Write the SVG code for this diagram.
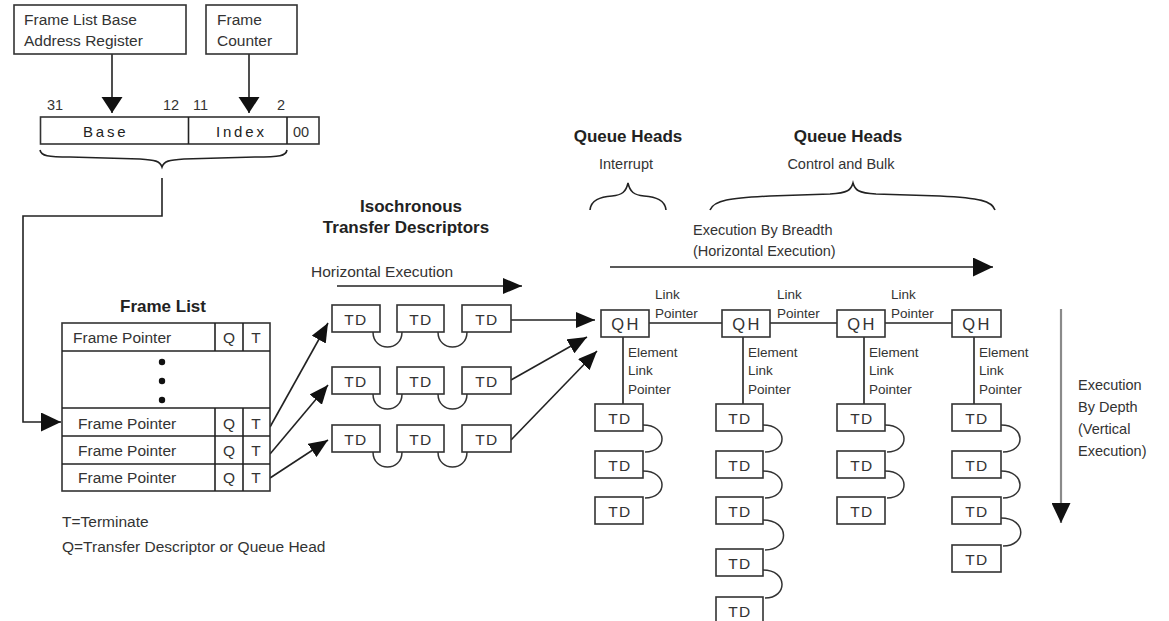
<svg xmlns="http://www.w3.org/2000/svg" width="1169" height="621" viewBox="0 0 1169 621">
<style>
text{font-family:"Liberation Sans",Arial,sans-serif;fill:#333;}
.t{font-size:15.5px;}
.s{font-size:13.5px;}
.b{font-size:17px;font-weight:bold;fill:#222;}
.td{font-size:15.5px;letter-spacing:1.5px;text-anchor:middle;}
.qh{font-size:16.5px;letter-spacing:2.5px;text-anchor:middle;}
.reg{font-size:15px;letter-spacing:2.8px;fill:#222;}
.box{fill:#fff;stroke:#333;stroke-width:1.6;}
.ln{fill:none;stroke:#222;stroke-width:1.6;}
.loop{fill:none;stroke:#333;stroke-width:1.5;}
</style>
<defs>
<marker id="ah" markerUnits="userSpaceOnUse" markerWidth="20" markerHeight="16" refX="19" refY="8" orient="auto"><path d="M0,0 L19,8 L0,16 z" fill="#111"/></marker>
<marker id="ahb" markerUnits="userSpaceOnUse" markerWidth="21" markerHeight="19" refX="20" refY="9.5" orient="auto"><path d="M0,0 L20,9.5 L0,19 z" fill="#111"/></marker>
<marker id="ahr" markerUnits="userSpaceOnUse" markerWidth="17" markerHeight="22" refX="16" refY="10.5" orient="auto"><path d="M0,0 L16,10.5 L0,21 z" fill="#111"/></marker>
</defs>
<rect width="1169" height="621" fill="#fff"/>

<g id="connectors">
<line class="ln" x1="112" y1="54" x2="112" y2="113" stroke-width="2" marker-end="url(#ahr)"/>
<line class="ln" x1="249" y1="54" x2="249" y2="113" stroke-width="2" marker-end="url(#ahr)"/>
<path class="ln" d="M40 150 C41 156 48 157 70 157 L140 159 C155 160 160 161 162 167 C164 161 169 160 184 159 L255 157 C280 157 286 156 287 150"/>
<path class="ln" d="M162 178 V216 H23 V422 H61" marker-end="url(#ahb)"/>
<line class="ln" x1="270" y1="427" x2="328" y2="323" marker-end="url(#ah)"/>
<line class="ln" x1="270" y1="454" x2="328" y2="385" marker-end="url(#ah)"/>
<line class="ln" x1="270" y1="478" x2="328" y2="440" marker-end="url(#ah)"/>
<line class="ln" x1="337" y1="286" x2="522" y2="286" marker-end="url(#ah)"/>
<line class="ln" x1="511" y1="320" x2="595" y2="320" marker-end="url(#ah)"/>
<line class="ln" x1="511" y1="380" x2="587" y2="337" marker-end="url(#ah)"/>
<line class="ln" x1="511" y1="440" x2="597" y2="351" marker-end="url(#ah)"/>
<path class="loop" d="M373 332 C373 352 402 352 402 332 M438 332 C438 352 467 352 467 332"/>
<path class="loop" d="M373 394 C373 414 402 414 402 394 M438 394 C438 414 467 414 467 394"/>
<path class="loop" d="M373 452 C373 472 402 472 402 452 M438 452 C438 472 467 472 467 452"/>
<path class="ln" d="M590 210 C591 200 600 197 612 196 C622 195 626 192 628 183 C630 192 634 195 644 196 C656 197 665 200 666 210"/>
<path class="ln" d="M710 210 C714 200 730 198 770 196 L830 194 C848 193 851 190 853 183 C855 190 858 193 876 194 L940 196 C980 198 992 201 995 210"/>
<line class="ln" x1="610" y1="267" x2="993" y2="267" marker-end="url(#ahb)"/>
<line x1="1061" y1="309" x2="1061" y2="523" stroke="#8a8a8a" stroke-width="2.2" marker-end="url(#ahb)"/>
<line class="ln" x1="649" y1="323" x2="722" y2="323"/>
<line class="ln" x1="770" y1="323" x2="837" y2="323"/>
<line class="ln" x1="885" y1="323" x2="952" y2="323"/>
<line class="ln" x1="623" y1="337" x2="623" y2="404"/>
<line class="ln" x1="743" y1="337" x2="743" y2="404"/>
<line class="ln" x1="864" y1="337" x2="864" y2="404"/>
<line class="ln" x1="974" y1="337" x2="974" y2="404"/>
<path class="loop" d="M643 425 C668 425 668 452 645 452 M643 471 C668 471 668 498 645 498"/>
<path class="loop" d="M763 425 C788 425 788 452 765 452 M763 471 C788 471 788 498 765 498 M763 520 C790 520 790 550 765 550 M763 570 C788 570 788 598 765 598"/>
<path class="loop" d="M885 425 C910 425 910 452 887 452 M885 471 C910 471 910 498 887 498"/>
<path class="loop" d="M1001 425 C1026 425 1026 452 1003 452 M1001 471 C1026 471 1026 498 1003 498 M1001 518 C1027 518 1027 546 1003 546"/>
</g>

<g id="flbar">
<rect class="box" x="14" y="5" width="172" height="49"/>
<text class="t" x="24" y="25">Frame List Base</text>
<text class="t" x="24" y="46">Address Register</text>
</g>
<g id="framecounter">
<rect class="box" x="206" y="5" width="91" height="49"/>
<text class="t" x="217" y="25">Frame</text>
<text class="t" x="217" y="46">Counter</text>
</g>

<g id="register">
<text class="t" x="47" y="110" style="font-size:14.5px">31</text>
<text class="t" x="163" y="110" style="font-size:14.5px">12</text>
<text class="t" x="193" y="110" style="font-size:14.5px">11</text>
<text class="t" x="277" y="110" style="font-size:14.5px">2</text>
<rect class="box" x="40.5" y="117" width="278.5" height="27"/>
<line class="ln" x1="188.5" y1="117" x2="188.5" y2="144"/>
<line class="ln" x1="287" y1="117" x2="287" y2="144"/>
<text class="reg" x="83" y="137">Base</text>
<text class="reg" x="216" y="137">Index</text>
<text x="293" y="137" style="font-size:14.5px">00</text>
</g>

<g id="framelist">
<text class="b" x="163" y="312" text-anchor="middle">Frame List</text>
<rect class="box" x="62" y="323" width="208" height="168"/>
<line class="ln" x1="62" y1="351" x2="270" y2="351"/>
<line class="ln" x1="62" y1="408" x2="270" y2="408"/>
<line class="ln" x1="62" y1="436" x2="270" y2="436"/>
<line class="ln" x1="62" y1="464" x2="270" y2="464"/>
<line class="ln" x1="215" y1="323" x2="215" y2="351"/>
<line class="ln" x1="243" y1="323" x2="243" y2="351"/>
<line class="ln" x1="215" y1="408" x2="215" y2="491"/>
<line class="ln" x1="243" y1="408" x2="243" y2="491"/>
<text class="t" x="73" y="343">Frame Pointer</text>
<text class="t" x="229" y="343" text-anchor="middle">Q</text>
<text class="t" x="256" y="343" text-anchor="middle">T</text>
<circle cx="162" cy="362" r="3.2" fill="#111"/>
<circle cx="162" cy="381" r="3.2" fill="#111"/>
<circle cx="162" cy="400" r="3.2" fill="#111"/>
<text class="t" x="78" y="429">Frame Pointer</text>
<text class="t" x="229" y="429" text-anchor="middle">Q</text>
<text class="t" x="256" y="429" text-anchor="middle">T</text>
<text class="t" x="78" y="456">Frame Pointer</text>
<text class="t" x="229" y="456" text-anchor="middle">Q</text>
<text class="t" x="256" y="456" text-anchor="middle">T</text>
<text class="t" x="78" y="483">Frame Pointer</text>
<text class="t" x="229" y="483" text-anchor="middle">Q</text>
<text class="t" x="256" y="483" text-anchor="middle">T</text>
<text class="t" x="62" y="527">T=Terminate</text>
<text class="t" x="62" y="552">Q=Transfer Descriptor or Queue Head</text>
</g>

<g id="iso">
<text class="b" x="411" y="212" text-anchor="middle">Isochronous</text>
<text class="b" x="406" y="233" text-anchor="middle">Transfer Descriptors</text>
<text class="t" x="311" y="277">Horizontal Execution</text>
<rect class="box" x="332" y="305" width="48" height="27"/><text class="td" x="356" y="325">TD</text>
<rect class="box" x="397" y="305" width="47" height="27"/><text class="td" x="421" y="325">TD</text>
<rect class="box" x="462" y="305" width="49" height="27"/><text class="td" x="487" y="325">TD</text>
<rect class="box" x="332" y="367" width="48" height="27"/><text class="td" x="356" y="387">TD</text>
<rect class="box" x="397" y="367" width="47" height="27"/><text class="td" x="421" y="387">TD</text>
<rect class="box" x="462" y="367" width="49" height="27"/><text class="td" x="487" y="387">TD</text>
<rect class="box" x="332" y="425" width="48" height="27"/><text class="td" x="356" y="445">TD</text>
<rect class="box" x="397" y="425" width="47" height="27"/><text class="td" x="421" y="445">TD</text>
<rect class="box" x="462" y="425" width="49" height="27"/><text class="td" x="487" y="445">TD</text>
</g>

<g id="qhlabels">
<text class="b" x="628" y="142" text-anchor="middle">Queue Heads</text>
<text class="t" x="626" y="169" text-anchor="middle" style="font-size:14.5px">Interrupt</text>
<text class="b" x="848" y="142" text-anchor="middle">Queue Heads</text>
<text class="t" x="841" y="169" text-anchor="middle" style="font-size:14.5px">Control and Bulk</text>
<text class="t" x="693" y="235" style="font-size:14.5px">Execution By Breadth</text>
<text class="t" x="693" y="256" style="font-size:14.5px">(Horizontal Execution)</text>
<text class="t" x="1078" y="390" style="font-size:14.5px">Execution</text>
<text class="t" x="1078" y="412" style="font-size:14.5px">By Depth</text>
<text class="t" x="1078" y="434" style="font-size:14.5px">(Vertical</text>
<text class="t" x="1078" y="456" style="font-size:14.5px">Execution)</text>
<text class="s" x="655" y="299">Link</text><text class="s" x="655" y="318">Pointer</text>
<text class="s" x="777" y="299">Link</text><text class="s" x="777" y="318">Pointer</text>
<text class="s" x="891" y="299">Link</text><text class="s" x="891" y="318">Pointer</text>
</g>

<g id="qh1">
<rect class="box" x="601" y="310" width="48" height="27"/><text class="qh" x="626" y="330">QH</text>
<text class="s" x="628" y="357">Element</text><text class="s" x="628" y="375">Link</text><text class="s" x="628" y="394">Pointer</text>
<rect class="box" x="595" y="404" width="48" height="27"/><text class="td" x="620" y="424">TD</text>
<rect class="box" x="595" y="451" width="48" height="27"/><text class="td" x="620" y="471">TD</text>
<rect class="box" x="595" y="497" width="48" height="27"/><text class="td" x="620" y="517">TD</text>
</g>
<g id="qh2">
<rect class="box" x="722" y="310" width="48" height="27"/><text class="qh" x="747" y="330">QH</text>
<text class="s" x="748" y="357">Element</text><text class="s" x="748" y="375">Link</text><text class="s" x="748" y="394">Pointer</text>
<rect class="box" x="716" y="404" width="47" height="27"/><text class="td" x="740" y="424">TD</text>
<rect class="box" x="716" y="451" width="47" height="27"/><text class="td" x="740" y="471">TD</text>
<rect class="box" x="716" y="497" width="47" height="27"/><text class="td" x="740" y="517">TD</text>
<rect class="box" x="716" y="549" width="47" height="27"/><text class="td" x="740" y="569">TD</text>
<rect class="box" x="716" y="597" width="47" height="27"/><text class="td" x="740" y="617">TD</text>
</g>
<g id="qh3">
<rect class="box" x="837" y="310" width="48" height="27"/><text class="qh" x="862" y="330">QH</text>
<text class="s" x="869" y="357">Element</text><text class="s" x="869" y="375">Link</text><text class="s" x="869" y="394">Pointer</text>
<rect class="box" x="837" y="404" width="48" height="27"/><text class="td" x="862" y="424">TD</text>
<rect class="box" x="837" y="451" width="48" height="27"/><text class="td" x="862" y="471">TD</text>
<rect class="box" x="837" y="497" width="48" height="27"/><text class="td" x="862" y="517">TD</text>
</g>
<g id="qh4">
<rect class="box" x="952" y="310" width="49" height="27"/><text class="qh" x="977" y="330">QH</text>
<text class="s" x="979" y="357">Element</text><text class="s" x="979" y="375">Link</text><text class="s" x="979" y="394">Pointer</text>
<rect class="box" x="952" y="404" width="49" height="27"/><text class="td" x="977" y="424">TD</text>
<rect class="box" x="952" y="451" width="49" height="27"/><text class="td" x="977" y="471">TD</text>
<rect class="box" x="952" y="497" width="49" height="27"/><text class="td" x="977" y="517">TD</text>
<rect class="box" x="952" y="545" width="49" height="27"/><text class="td" x="977" y="565">TD</text>
</g>
</svg>
